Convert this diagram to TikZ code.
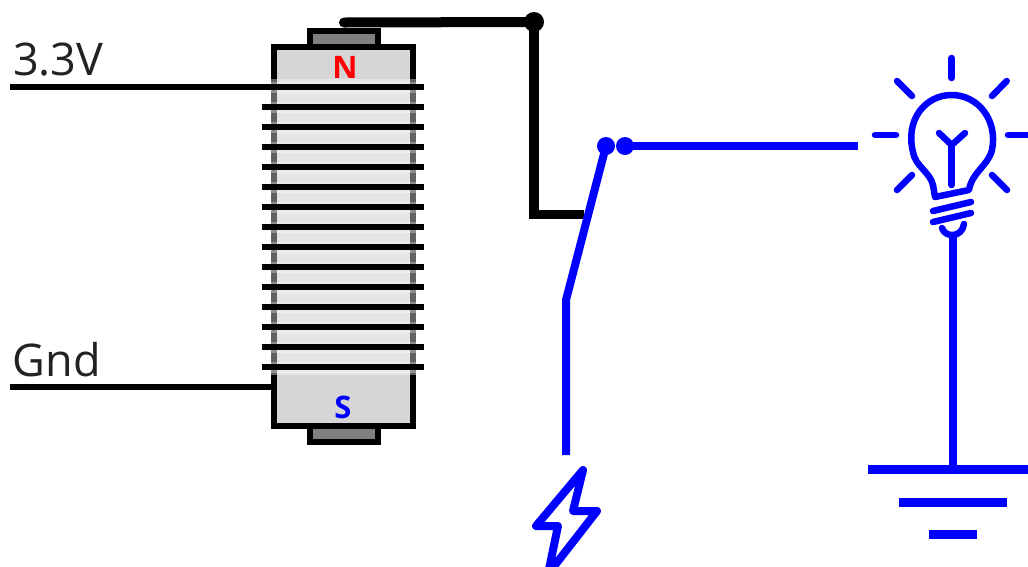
\documentclass[tikz,border=0pt]{standalone}
\usepackage{fontspec}
\setmainfont{Open Sans}
\usepackage{tikz}
\usetikzlibrary{positioning,calc}
\definecolor{CoreGrey}{HTML}{D6D6D6}
\definecolor{PoleGrey}{HTML}{808080}
\definecolor{LampBlue}{HTML}{0000FF}
\definecolor{LabelInk}{HTML}{222222}
\tikzset{
  % Thin supply lead and coil turn
  lead/.style={draw=black, line width=6pt},
  % Soft edge round a coil turn
  halo/.style={draw=white, opacity=0.3, line width=11pt},
  % Heavy black wire
  wire/.style={draw=black, line width=#1},
  % Blue lamp circuit
  bluewire/.style={draw=LampBlue, line width=#1},
  % Magnet parts
  corebox/.style={draw=black, fill=CoreGrey, line width=6pt},
  polebox/.style={draw=black, fill=PoleGrey, line width=6pt},
  % Contact dots
  blackdot/.style={circle, fill=black, inner sep=0pt, minimum size=20pt},
  bluedot/.style={circle, fill=LampBlue, inner sep=0pt, minimum size=18pt},
  % Icon strokes
  icon/.style={draw=LampBlue, line width=6.5pt, line cap=round, line join=round},
  % Labels
  lbl/.style={anchor=base west, inner sep=0pt, text=LabelInk,
    font=\fontsize{45pt}{45pt}\selectfont},
  polelbl/.style={inner sep=0pt, text=#1,
    font=\fontsize{31pt}{31pt}\selectfont\bfseries}
}
\begin{document}
\begin{tikzpicture}[x=1pt,y=-1pt]

  \clip (0,0) rectangle (1028,566);
  \fill[white] (0,0) rectangle (1028,566);

  % ---- MAGNET ----
  \draw[polebox] (310,31) rectangle (377.5,47);
  \draw[polebox] (310,425) rectangle (377.5,441.5);
  \draw[corebox] (273.5,47) rectangle (413,425.5);
  \fill[white, opacity=0.38] (266,79) rectangle (420,375);

  \node[polelbl=red]      (north) at (345,67)  {N};
  \node[polelbl=LampBlue] (south) at (343,407) {S};

  % ---- LEADS AND COIL ----
  \coordinate (vin)   at (10,87);
  \coordinate (vinb)  at (424,87);
  \coordinate (gnd)   at (10,387);
  \coordinate (gndb)  at (272,387);
  \node[lbl] (vlabel) at (13,75)  {3.3V};
  \node[lbl] (glabel) at (12.5,376) {Gnd};
  \foreach \y in {87,107,...,367}
    \draw[halo] (266,\y) -- (420,\y);
  \draw[lead] (vin) -- (vinb);
  \draw[lead] (gnd) -- (gndb);
  \foreach \y in {107,127,...,367}
    \draw[lead] (262,\y) -- (424,\y);

  % ---- BLACK WIRE TO SWITCH ----
  \coordinate (wstart) at (344,22.5);
  \coordinate (wbend)  at (534,214);
  \coordinate (wend)   at (584,214);
  \node[blackdot] (joint) at (534,22) {};
  \draw[wire=10pt, line cap=round] (wstart) -- (joint.center);
  \draw[wire=9pt] (wbend) -- (wend);
  \draw[wire=10.5pt, line cap=rect] (joint.center) -- (wbend);

  % ---- SWITCH ----
  \coordinate (sbottom) at (566,455);
  \coordinate (shinge)  at (566,300);
  \node[bluedot] (sarm)  at (606,146) {};
  \node[bluedot] (sfix)  at (625,146) {};
  \coordinate (lampin) at (858,146);
  \draw[bluewire=8pt, line join=round] (sbottom) -- (shinge) -- (sarm.center);
  \draw[bluewire=8pt] (sfix.center) -- (lampin);

  % ---- BOLT ----
  \draw[icon, line width=8pt] (583,470) -- (536,526) -- (558,526) -- (548,574)
    -- (597,511) -- (573,511) -- cycle;

  % ---- LAMP ----
  \coordinate (lampc) at (951.7,135);
  \foreach \a/\b/\c/\d in {951.7/58/951.7/78, 897/81/912/96, 1006.7/81/992/96,
      875/135/896/135, 1008/135/1032/135, 912/175/897/190, 992/175/1007/190}
    \draw[icon] (\a,\b) -- (\c,\d);
  \draw[icon] (935,197) -- (933,185) .. controls (930,172) and (915,166) .. (913,152)
    .. controls (905,120) and (925,95) .. (951.7,95)
    .. controls (978,95) and (998,120) .. (992,150)
    .. controls (988,166) and (972,172) .. (969,190) -- cycle;
  \draw[icon] (939,133) -- (951.7,145) -- (965,133);
  \draw[icon] (951.7,145) -- (951.7,185);
  \draw[icon] (933,211) -- (971,202);
  \draw[icon] (933,222) -- (971,213);
  \draw[icon] (942,228) .. controls (945,238) and (962,238) .. (964,224);

  % ---- GROUND ----
  \coordinate (lampout) at (952.7,232);
  \coordinate (gnda) at (952.7,469);
  \draw[bluewire=8pt] (lampout) -- (gnda);
  \draw[bluewire=9pt] (868,469) -- (1028,469);
  \draw[bluewire=9pt] (899,502) -- (1007,502);
  \draw[bluewire=9pt] (929,534) -- (977,534);

\end{tikzpicture}
\end{document}
